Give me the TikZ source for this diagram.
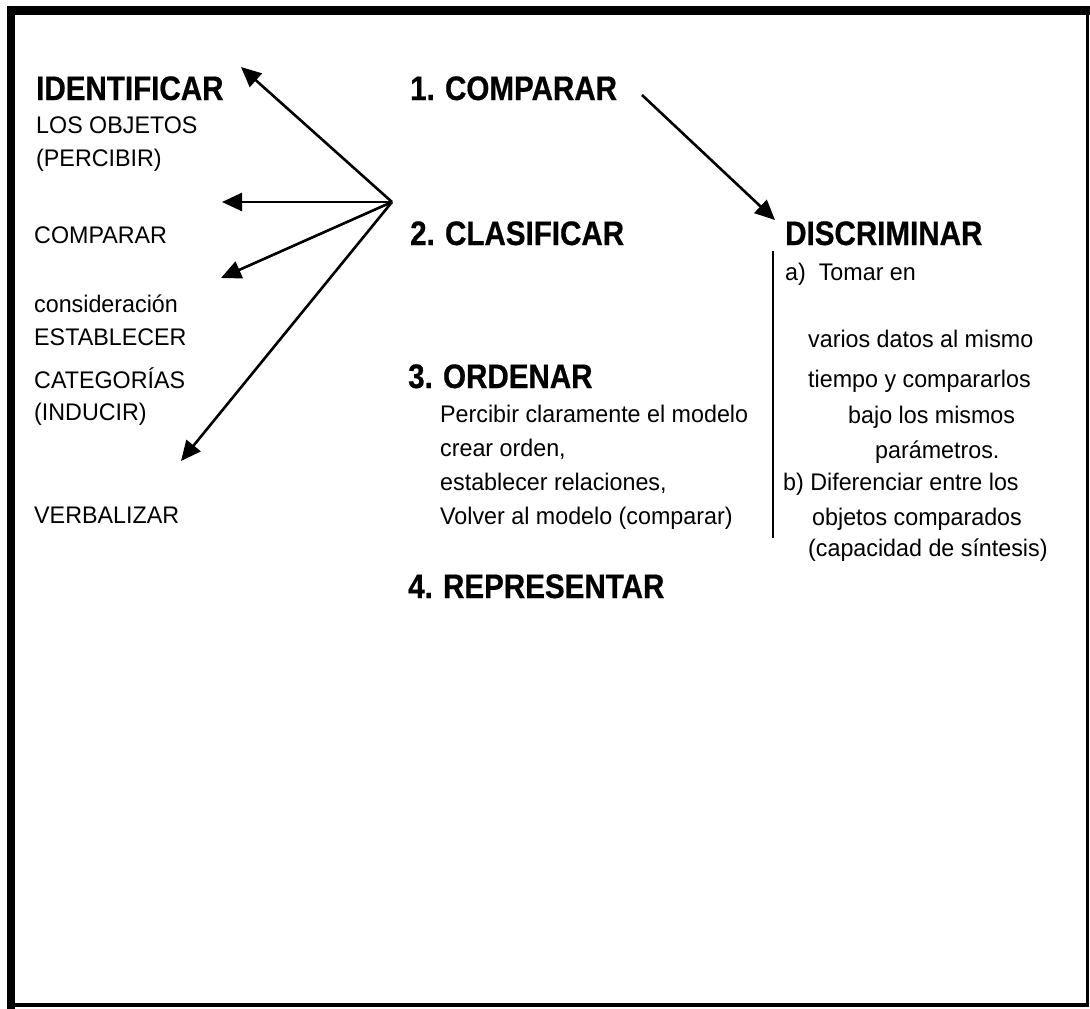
\documentclass[tikz,border=0pt]{standalone}
\usepackage{fontspec}
\setmainfont{Liberation Sans}[FakeStretch=0.97]
\newfontfamily\headfont{Liberation Sans}[FakeStretch=0.87,FakeBold=0.6]
\usetikzlibrary{arrows.meta}
\begin{document}
\begin{tikzpicture}[x=1pt,y=-1pt,
  txt/.style={anchor=base west,inner sep=0pt,font=\fontsize{24}{28}\selectfont},
  head/.style={anchor=base west,inner sep=0pt,font=\headfont\bfseries\fontsize{34}{38}\selectfont},
  arr/.style={line width=2.6pt,-{Triangle[length=20pt,width=18pt]}},
  frame/.style={line width=#1,line cap=rect}]
\useasboundingbox (0,0) rectangle (1090,1009);
\fill[white] (0,0) rectangle (1090,1009);
% outer frame
\draw[frame=9pt] (11,10) -- (1089,10);
\draw[frame=8pt] (11,10) -- (11,1005);
\draw[frame=3.5pt] (11,1005) -- (1087.5,1005);
\draw[frame=3.5pt] (1087.5,10) -- (1087.5,1005);

% left column
\node[head] (ident) at (36,100) {IDENTIFICAR};
\node[txt] (objs) at (36,133) {LOS OBJETOS};
\node[txt] (perc) at (36,166) {(PERCIBIR)};
\node[txt] (comp) at (34,243) {COMPARAR};
\node[txt] (cons) at (34,312) {consideración};
\node[txt] (estab) at (34,345) {ESTABLECER};
\node[txt] (categ) at (34,388) {CATEGORÍAS};
\node[txt] (induc) at (34,420) {(INDUCIR)};
\node[txt] (verb) at (34,523) {VERBALIZAR};

% fan of arrows
\coordinate (hub) at (392,202);
\coordinate (t1) at (241,67);
\coordinate (t2) at (222,202);
\coordinate (t3) at (221,278);
\coordinate (t4) at (181,461);
\draw[arr] (hub) -- (t1);
\draw[arr] (hub) -- (t2);
\draw[arr] (hub) -- (t3);
\draw[arr] (hub) -- (t4);

% middle column
\node[head] (s1) at (410,100) {1.\hspace{0.3em}COMPARAR};
\node[head] (s2) at (410,245) {2.\hspace{0.3em}CLASIFICAR};
\node[head] (s3) at (408,388) {3.\hspace{0.3em}ORDENAR};
\node[txt] (o1) at (440,422) {Percibir claramente el modelo};
\node[txt] (o2) at (440,456) {crear orden,};
\node[txt] (o3) at (440,490) {establecer relaciones,};
\node[txt] (o4) at (440,524) {Volver al modelo (comparar)};
\node[head] (s4) at (408,598) {4.\hspace{0.3em}REPRESENTAR};

% right column
\node[head] (disc) at (785,245) {DISCRIMINAR};
\coordinate (a0) at (642,95);
\coordinate (a1) at (775,220);
\draw[arr] (a0) -- (a1);
\coordinate (bar0) at (773,251);
\coordinate (bar1) at (773,538);
\draw[line width=1.8pt] (bar0) -- (bar1);
\node[txt] (d1) at (785,280) {a)\ \ Tomar en};
\node[txt] (d2) at (808,347) {varios datos al mismo};
\node[txt] (d3) at (808,387) {tiempo y compararlos};
\node[txt] (d4) at (848,423) {bajo los mismos};
\node[txt] (d5) at (875,458) {parámetros.};
\node[txt] (d6) at (783,490) {b) Diferenciar entre los};
\node[txt] (d7) at (812,525) {objetos comparados};
\node[txt] (d8) at (808,556) {(capacidad de síntesis)};
\end{tikzpicture}
\end{document}
